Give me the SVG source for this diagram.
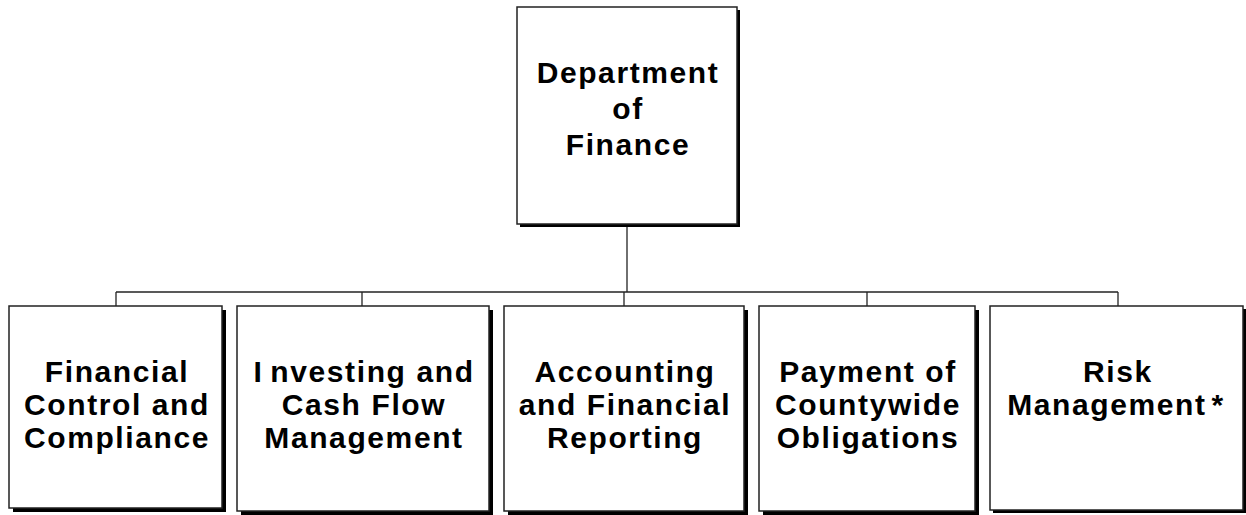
<svg xmlns="http://www.w3.org/2000/svg" width="1246" height="515" viewBox="0 0 1246 515">
<style>
.box{fill:#fff;stroke:#222;stroke-width:1.5}
.sh{fill:#000}
.lbl{font-family:"Liberation Sans",Arial,sans-serif;font-weight:bold;font-size:30px;letter-spacing:1.6px;fill:#000;text-anchor:middle}
.ln{stroke:#222;stroke-width:1.3;fill:none}
</style>
<rect width="1246" height="515" fill="#fff"/>
<g id="connectors">
<line class="ln" x1="627" y1="224" x2="627" y2="292"/>
<line class="ln" x1="116" y1="292" x2="1118" y2="292"/>
<line class="ln" x1="116" y1="292" x2="116" y2="306"/>
<line class="ln" x1="362" y1="292" x2="362" y2="306"/>
<line class="ln" x1="624" y1="292" x2="624" y2="306"/>
<line class="ln" x1="867" y1="292" x2="867" y2="306"/>
<line class="ln" x1="1118" y1="292" x2="1118" y2="306"/>
</g>
<g id="dept">
<rect class="sh" x="520" y="10" width="220" height="217"/>
<rect class="box" x="517" y="7" width="220" height="217"/>
<text class="lbl" x="628" y="83">Department</text>
<text class="lbl" x="628" y="119">of</text>
<text class="lbl" x="628" y="155">Finance</text>
</g>
<g id="fcc">
<rect class="sh" x="13" y="310" width="213" height="202"/>
<rect class="box" x="9" y="306" width="213" height="202"/>
<text class="lbl" x="117" y="382">Financial</text>
<text class="lbl" x="117" y="415">Control and</text>
<text class="lbl" x="117" y="448">Compliance</text>
</g>
<g id="icfm">
<rect class="sh" x="241" y="310" width="252" height="205"/>
<rect class="box" x="237" y="306" width="252" height="205"/>
<text class="lbl" x="364" y="382">I<tspan dx="7">nvesting and</tspan></text>
<text class="lbl" x="364" y="415">Cash Flow</text>
<text class="lbl" x="364" y="448">Management</text>
</g>
<g id="afr">
<rect class="sh" x="508" y="310" width="240" height="205"/>
<rect class="box" x="504" y="306" width="240" height="205"/>
<text class="lbl" x="625" y="382">Accounting</text>
<text class="lbl" x="625" y="415">and Financial</text>
<text class="lbl" x="625" y="448">Reporting</text>
</g>
<g id="pco">
<rect class="sh" x="763" y="310" width="216" height="205"/>
<rect class="box" x="759" y="306" width="216" height="205"/>
<text class="lbl" x="868" y="382">Payment of</text>
<text class="lbl" x="868" y="415">Countywide</text>
<text class="lbl" x="868" y="448">Obligations</text>
</g>
<g id="risk">
<rect class="sh" x="993" y="309" width="253" height="204"/>
<rect class="box" x="990" y="306" width="253" height="204"/>
<text class="lbl" x="1118" y="382">Risk</text>
<text class="lbl" x="1116" y="415">Management<tspan dx="5">*</tspan></text>
</g>
</svg>
